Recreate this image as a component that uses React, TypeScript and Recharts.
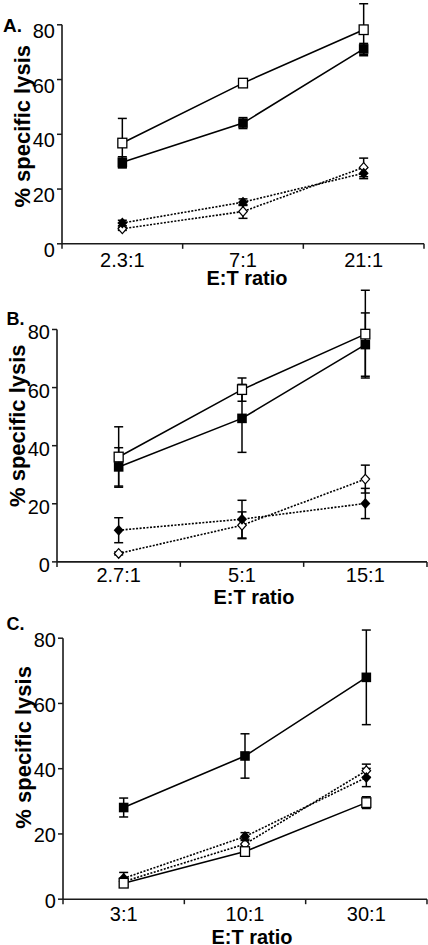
import React from 'react';
import { LineChart, Line, XAxis, YAxis, ErrorBar, ReferenceLine } from 'recharts';

const FONT = '"Liberation Sans", Arial, Helvetica, sans-serif';

// ---------- Panel A ----------
const categoriesA = ['2.3:1', '7:1', '21:1'];
const openSquareA = [36.8, 58.7, 78.2];
const openSquareErrA = [9, 1.5, 9.5];
const filledSquareA = [29.8, 44.1, 71.2];
const filledSquareErrA = [2, 2, 2];
const filledDiamondA = [7.6, 15.2, 25.8];
const filledDiamondErrA = [1, 1.2, 2];
const openDiamondA = [5.5, 11.8, 27.9];
const openDiamondErrA = [0.6, 2.5, 3.4];

// ---------- Panel B ----------
const categoriesB = ['2.7:1', '5:1', '15:1'];
const openSquareB = [36.1, 59.3, 78.4];
const openSquareErrB = [10.4, 4, 15.1];
const filledSquareB = [32.7, 49.4, 74.8];
const filledSquareErrB = [6.6, 11.7, 10.9];
const filledDiamondB = [10.9, 14.7, 20.1];
const filledDiamondErrB = [4.3, 6.5, 5.2];
const openDiamondB = [2.9, 12.6, 28.5];
const openDiamondErrB = [0.5, 4.6, 4.8];

// ---------- Panel C ----------
const categoriesC = ['3:1', '10:1', '30:1'];
const openSquareC = [4.9, 14.6, 29.6];
const openSquareErrC = [1, 1, 1.8];
const filledSquareC = [28.1, 43.9, 68.0];
const filledSquareErrC = [2.9, 6.8, 14.5];
const filledDiamondC = [6.4, 19.2, 37.3];
const filledDiamondErrC = [1.8, 1.2, 2.8];
const openDiamondC = [5.4, 16.9, 39.4];
const openDiamondErrC = [1, 1.5, 2];

const yTicks = [0, 20, 40, 60, 80];
const xTicks = [0, 0.5, 1, 1.5, 2, 2.5, 3];
const Y_AXIS_TOP = 80;
const Y_MAX = 96;
const MARGIN_TOP = 10;
const X_AXIS_H = 55;

const buildRows = (
  cats: string[],
  os: number[], osE: number[],
  fs: number[], fsE: number[],
  fd: number[], fdE: number[],
  od: number[], odE: number[]
) =>
  cats.map((c, i) => ({
    x: i + 0.5,
    cat: c,
    os: os[i], osE: osE[i],
    fs: fs[i], fsE: fsE[i],
    fd: fd[i], fdE: fdE[i],
    od: od[i], odE: odE[i],
  }));

const rowsA = buildRows(categoriesA, openSquareA, openSquareErrA, filledSquareA, filledSquareErrA, filledDiamondA, filledDiamondErrA, openDiamondA, openDiamondErrA);
const rowsB = buildRows(categoriesB, openSquareB, openSquareErrB, filledSquareB, filledSquareErrB, filledDiamondB, filledDiamondErrB, openDiamondB, openDiamondErrB);
const rowsC = buildRows(categoriesC, openSquareC, openSquareErrC, filledSquareC, filledSquareErrC, filledDiamondC, filledDiamondErrC, openDiamondC, openDiamondErrC);

const layoutA = { yAxisX: 62, rightX: 424, y0: 244, k: 2.7375, yTickDy: 6, xTickBase: 23, titleBase: 41.5, titleDx: 4, labelCX: 22, labelCY: 126.5 };
const layoutB = { yAxisX: 57, rightX: 427, y0: 561.7, k: 2.905, yTickDy: 3, xTickBase: 20, titleBase: 42.3, titleDx: 12, labelCX: 17.5, labelCY: 425.5 };
const layoutC = { yAxisX: 63, rightX: 427, y0: 899.3, k: 3.2625, yTickDy: 1.5, xTickBase: 21.7, titleBase: 45, titleDx: 7, labelCX: 23.5, labelCY: 747.5 };

const INK = '#000';
const AXIS = '#1a1a1a';

const filledSquare = (p: any) => {
  if (p.cx == null || p.cy == null) return <g key={`fs-${p.index}`} />;
  return <rect key={`fs-${p.index}`} x={p.cx - 4.8} y={p.cy - 4.8} width={9.6} height={9.6} fill={INK} />;
};
const openSquare = (p: any) => {
  if (p.cx == null || p.cy == null) return <g key={`os-${p.index}`} />;
  return <rect key={`os-${p.index}`} x={p.cx - 4.5} y={p.cy - 4.8} width={9} height={9.6} fill="#fff" stroke={INK} strokeWidth={1.3} />;
};
const filledDiamond = (p: any) => {
  if (p.cx == null || p.cy == null) return <g key={`fd-${p.index}`} />;
  const { cx, cy } = p;
  return <polygon key={`fd-${p.index}`} points={`${cx},${cy - 5.5} ${cx + 5},${cy} ${cx},${cy + 5.5} ${cx - 5},${cy}`} fill={INK} />;
};
const openDiamond = (p: any) => {
  if (p.cx == null || p.cy == null) return <g key={`od-${p.index}`} />;
  const { cx, cy } = p;
  return <polygon key={`od-${p.index}`} points={`${cx},${cy - 4.8} ${cx + 4.3},${cy} ${cx},${cy + 4.8} ${cx - 4.3},${cy}`} fill="#fff" stroke={INK} strokeWidth={1.2} />;
};

type Layout = typeof layoutA;

function Panel({ rows, categories, L }: { rows: any[]; categories: string[]; L: Layout }) {
  const plotH = Y_MAX * L.k;
  const plotTop = L.y0 - plotH;
  const chartTop = plotTop - MARGIN_TOP;
  const chartH = MARGIN_TOP + plotH + X_AXIS_H;
  const axisY = MARGIN_TOP + plotH;

  const renderXTick = (p: any) => {
    const v = p.payload.value;
    if (Number.isInteger(v)) {
      return <line x1={p.x} x2={p.x} y1={axisY} y2={axisY + 5} stroke={AXIS} strokeWidth={1.5} />;
    }
    return (
      <text x={p.x} y={axisY + L.xTickBase} textAnchor="middle" fontSize={20} fontFamily={FONT} fill={INK}>
        {categories[Math.floor(v)]}
      </text>
    );
  };

  const renderYTick = (p: any) => (
    <text x={L.yAxisX - 7} y={p.y + 7 + L.yTickDy} textAnchor="end" fontSize={20} fontFamily={FONT} fill={INK}>
      {p.payload.value}
    </text>
  );

  const xTitle = () => (
    <text x={(L.yAxisX + L.rightX) / 2 + L.titleDx} y={axisY + L.titleBase} textAnchor="middle" fontSize={20} fontWeight="bold" fontFamily={FONT} fill={INK}>
      E:T ratio
    </text>
  );
  const yTitle = () => {
    const cx = L.labelCX;
    const cy = L.labelCY - chartTop;
    return (
      <text x={cx} y={cy} transform={`rotate(-90 ${cx} ${cy})`} textAnchor="middle" dominantBaseline="central" fontSize={22} fontWeight="bold" fontFamily={FONT} fill={INK}>
        % specific lysis
      </text>
    );
  };

  return (
    <div style={{ position: 'absolute', left: 0, top: chartTop, width: 428, height: chartH }}>
      <LineChart
        width={428}
        height={chartH}
        data={rows}
        margin={{ top: MARGIN_TOP, right: 428 - L.rightX, bottom: 0, left: 0 }}
        style={{ overflow: 'visible' }}
      >
        <XAxis
          dataKey="x"
          type="number"
          domain={[0, 3]}
          ticks={xTicks}
          interval={0}
          tickSize={0}
          tickMargin={0}
          tickLine={false}
          tick={renderXTick}
          height={X_AXIS_H}
          axisLine={{ stroke: AXIS, strokeWidth: 1.6 }}
          label={xTitle}
        />
        <YAxis
          type="number"
          domain={[0, Y_MAX]}
          ticks={yTicks}
          interval={0}
          width={L.yAxisX}
          axisLine={false}
          tickLine={{ stroke: AXIS, strokeWidth: 1.5 }}
          tickSize={5}
          tickMargin={2}
          tick={renderYTick}
          label={yTitle}
        />
        <ReferenceLine segment={[{ x: 0, y: 0 }, { x: 0, y: Y_AXIS_TOP }]} stroke={AXIS} strokeWidth={1.6} />
        <Line dataKey="od" stroke={INK} strokeWidth={1.6} strokeDasharray="2 1.5" dot={openDiamond} activeDot={false} isAnimationActive={false}>
          <ErrorBar dataKey="odE" width={4.5} stroke={INK} strokeWidth={1.5} />
        </Line>
        <Line dataKey="fd" stroke={INK} strokeWidth={1.6} strokeDasharray="2 1.5" dot={filledDiamond} activeDot={false} isAnimationActive={false}>
          <ErrorBar dataKey="fdE" width={4.5} stroke={INK} strokeWidth={1.5} />
        </Line>
        <Line dataKey="os" stroke={INK} strokeWidth={1.6} dot={openSquare} activeDot={false} isAnimationActive={false}>
          <ErrorBar dataKey="osE" width={4.5} stroke={INK} strokeWidth={1.5} />
        </Line>
        <Line dataKey="fs" stroke={INK} strokeWidth={1.6} dot={filledSquare} activeDot={false} isAnimationActive={false}>
          <ErrorBar dataKey="fsE" width={4.5} stroke={INK} strokeWidth={1.5} />
        </Line>
      </LineChart>
    </div>
  );
}

export default function App() {
  return (
    <div style={{ position: 'absolute', left: 0, top: 0, width: 428, height: 945, overflow: 'hidden', background: '#fff' }}>
      <Panel rows={rowsA} categories={categoriesA} L={layoutA} />
      <Panel rows={rowsB} categories={categoriesB} L={layoutB} />
      <Panel rows={rowsC} categories={categoriesC} L={layoutC} />
      <svg width={428} height={945} style={{ position: 'absolute', left: 0, top: 0, pointerEvents: 'none' }}>
        <text x={3} y={32} fontSize={19} fontWeight="bold" fontFamily={FONT} fill={INK}>A.</text>
        <text x={6.5} y={325} fontSize={18} fontWeight="bold" fontFamily={FONT} fill={INK}>B.</text>
        <text x={6.5} y={630} fontSize={18} fontWeight="bold" fontFamily={FONT} fill={INK}>C.</text>
      </svg>
    </div>
  );
}
